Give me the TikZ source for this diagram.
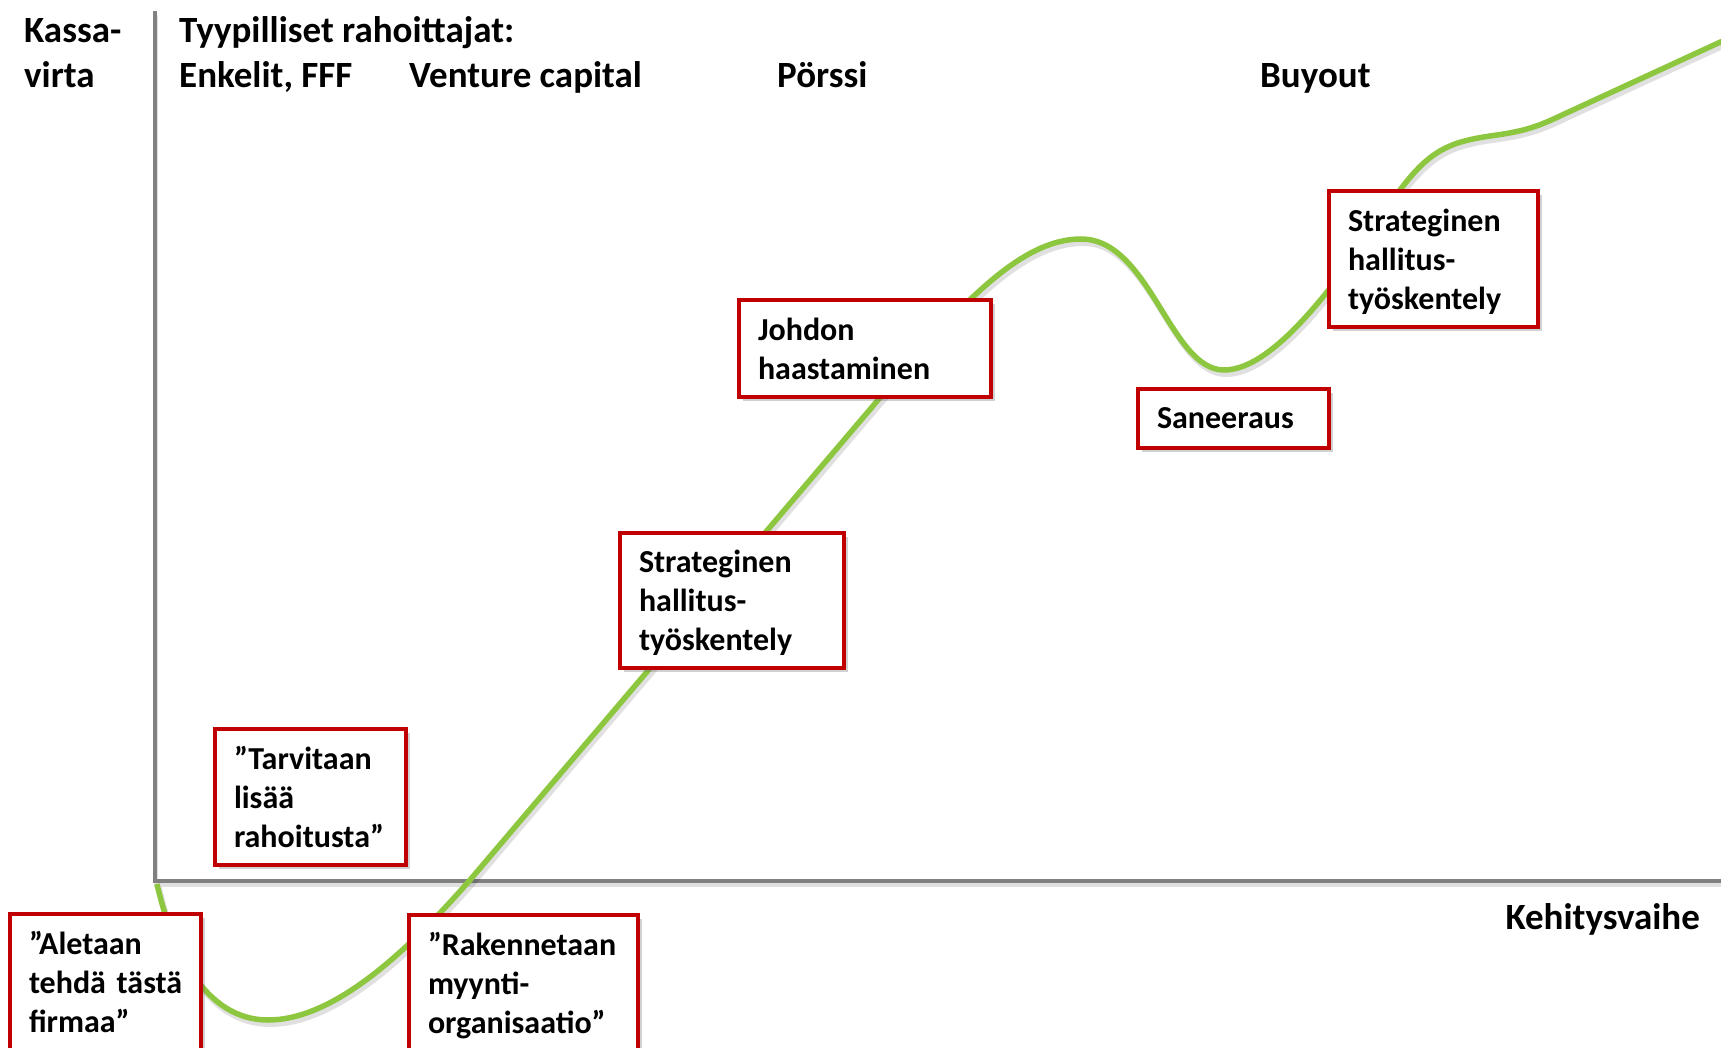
\documentclass[tikz,border=0pt]{standalone}
\usepackage{fontspec}
\setmainfont{Carlito}
\usetikzlibrary{shadows}
\definecolor{boxred}{RGB}{192,0,0}
\definecolor{curvegreen}{RGB}{141,198,63}
\definecolor{axisgray}{RGB}{128,128,128}
\newcommand{\boxfont}{\fontsize{32}{39}\selectfont\bfseries}
\newcommand{\hdrfont}{\fontsize{37}{45}\selectfont\bfseries}
\newcommand{\dropdepth}{\endgraf\kern-\prevdepth}
\begin{document}
\begin{tikzpicture}[x=1pt,y=-1pt,
  rbox/.style={draw=boxred, line width=4pt, fill=white, inner xsep=19pt, inner ysep=0pt,
    align=left, font=\boxfont, text=black,
    execute at end node=\dropdepth,
    drop shadow={shadow xshift=4pt, shadow yshift=-4pt, opacity=0.3, fill=black!60}},
  hdr/.style={font=\hdrfont, inner sep=0pt, text=black},
  curveline/.style={draw=curvegreen, line width=5.5pt,
    preaction={draw=black, opacity=0.12, line width=6pt, transform canvas={xshift=2pt,yshift=-4pt}}},
  axisline/.style={draw=axisgray, line width=4.5pt,
    preaction={draw=black, opacity=0.12, line width=4.5pt, transform canvas={xshift=1pt,yshift=-4pt}}}
]
\useasboundingbox (0,0) rectangle (1721,1048);
\clip (0,0) rectangle (1721,1048);

% axes
\coordinate (ytop) at (155,11);
\coordinate (orig) at (155,881);
\coordinate (xend) at (1725,881);
\draw[axisline] (ytop) -- (orig) -- (xend);

% curve
\draw[curveline] (157,884) .. controls (172,950) and (205,1020) .. (268,1020)
 .. controls (330,1020) and (400,960) .. (470,880)
 -- (878,400)
 .. controls (960,305) and (1020,239) .. (1081,239)
 .. controls (1150,239) and (1170,370) .. (1224,370)
 .. controls (1275,370) and (1340,280) .. (1400,190)
 .. controls (1430,150) and (1450,142) .. (1490,136)
 .. controls (1520,132) and (1535,128) .. (1560,116)
 -- (1740,33);

% headers
\node[hdr, anchor=base west] (kassa) at (24,43) {Kassa-};
\node[hdr, anchor=base west] (virta) at (24,88) {virta};
\node[hdr, anchor=base west] (tyyp) at (179,43) {Tyypilliset rahoittajat:};
\node[hdr, anchor=base west] (enk) at (179,88) {Enkelit, FFF};
\node[hdr, anchor=base west] (vc) at (409,88) {Venture capital};
\node[hdr, anchor=base west] (porssi) at (777,88) {Pörssi};
\node[hdr, anchor=base west] (buyout) at (1260,88) {Buyout};
\node[hdr, anchor=base east] (kehitys) at (1700,929) {Kehitysvaihe};

% boxes
\node[rbox, minimum width=191pt, minimum height=136pt, text width=153pt] (tarv) at (310.5,797)
  {”Tarvitaan\\lisää\\rahoitusta”};
\node[rbox, minimum width=191pt, minimum height=136pt, text width=153pt] (alet) at (105.5,982)
  {”Aletaan\\tehdä~tästä\\firmaa”};
\node[rbox, minimum width=229pt, minimum height=136pt, text width=191pt] (rak) at (523.5,983)
  {”Rakennetaan\\myynti-\\organisaatio”};
\node[rbox, minimum width=224pt, minimum height=135pt, text width=186pt] (str1) at (732,600.5)
  {Strateginen\\hallitus-\\työskentely};
\node[rbox, minimum width=252pt, minimum height=97pt, text width=214pt] (joh) at (865,348.5)
  {Johdon\\haastaminen};
\node[rbox, minimum width=191pt, minimum height=59pt, text width=153pt] (san) at (1233.5,418)
  {Saneeraus};
\node[rbox, minimum width=209pt, minimum height=136pt, text width=171pt] (str2) at (1433.5,259)
  {Strateginen\\hallitus-\\työskentely};
\end{tikzpicture}
\end{document}
